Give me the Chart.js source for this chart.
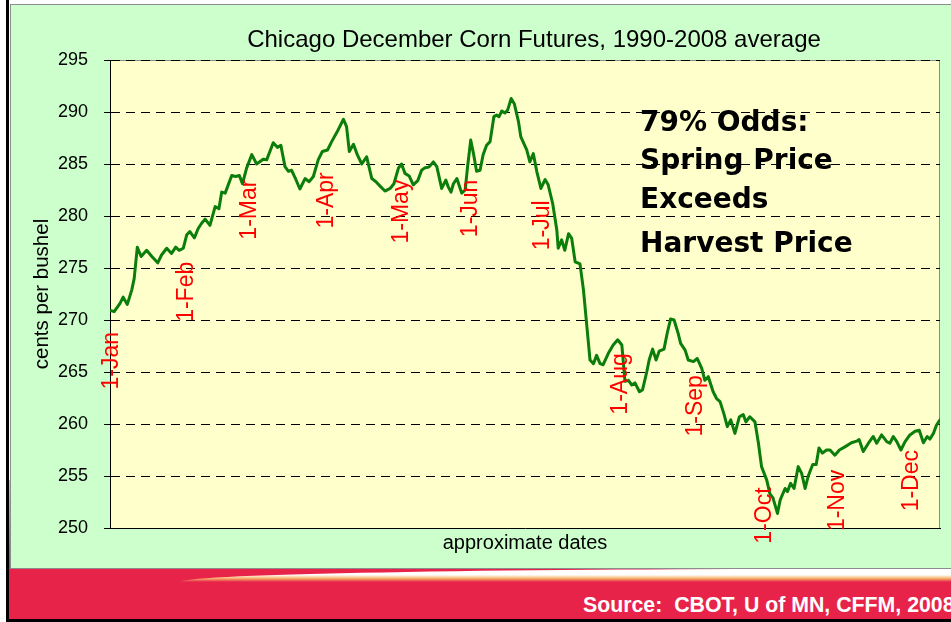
<!DOCTYPE html>
<html>
<head>
<meta charset="utf-8">
<title>Chicago December Corn Futures</title>
<script src="https://cdn.jsdelivr.net/npm/chart.js@4.4.1/dist/chart.umd.min.js"></script>
<style>
  html, body { margin: 0; padding: 0; }
  body { width: 951px; height: 622px; position: relative; overflow: hidden; background: #fff;
         font-family: "Liberation Sans", Arial, sans-serif; }
  #edge { position: absolute; left: 6px; top: 0; width: 3px; height: 622px; background: #000; }
  #sliver { position: absolute; left: 9px; top: 480px; width: 2px; height: 90px;
            background: linear-gradient(#f5c07a, #e8234a); }
  #panel { position: absolute; left: 10px; top: 4px; width: 960px; height: 563px;
           background: #ccffcc; border: 1px solid #8c8c8c; }
  #chartBox { position: absolute; left: 11px; top: 5px; width: 940px; height: 563px; }
  #band { position: absolute; left: 9px; top: 569px; width: 942px; height: 50px; background: #e8234a; }
  #sheen { position: absolute; left: 180px; top: 569px; width: 800px; height: 13px;
           background: linear-gradient(#ffffff 0%, #ffffff 45%, #f6b36a 72%, #e8234a 100%);
           border-top-left-radius: 620px 13px; }
  #source { position: absolute; left: 583px; top: 593px; color: #fff; font-weight: bold;
            font-size: 21.3px; white-space: pre; }
  #bottom { position: absolute; left: 6px; top: 619px; width: 945px; height: 3px; background: #000; }
</style>
</head>
<body>
<div id="edge"></div>
<div id="sliver"></div>
<div id="panel"></div>
<div id="band"></div>
<div id="sheen"></div>
<div id="source">Source:  CBOT, U of MN, CFFM, 2008</div>
<div id="bottom"></div>
<div id="chartBox"><canvas id="cornChart"></canvas></div>

<script>
// trading day since 1-Jan (approximate) and the average December corn price, cents per bushel
const tradingDay = [0.3,1.2,2.9,3.8,5.0,6.3,7.0,7.9,9.0,10.6,
  12.1,13.8,14.9,16.4,17.8,19.0,20.0,21.2,22.2,23.1,
  24.4,25.5,26.5,27.5,28.9,30.4,31.5,32.3,33.3,35.2,
  36.3,37.4,38.3,39.5,41.0,42.4,44.3,45.3,47.2,48.4,
  49.4,50.6,51.6,52.5,53.5,54.9,56.4,57.6,58.8,60.2,
  61.4,62.9,64.1,66.0,67.5,68.4,69.2,70.4,71.5,72.8,
  74.2,75.7,76.9,78.3,79.5,81.0,82.1,83.4,84.3,85.3,
  86.5,87.7,89.0,90.1,91.1,92.2,93.5,94.5,95.9,97.1,
  97.8,98.6,99.3,100.3,100.9,101.7,102.7,103.4,104.3,105.1,
  106.0,107.0,107.9,108.9,109.9,111.0,111.8,112.5,113.3,114.2,
  115.0,116.0,116.9,118.1,118.8,120.5,121.4,122.4,123.4,124.6,
  125.8,126.7,128.0,129.2,129.6,130.6,131.5,132.6,133.5,134.5,
  135.9,136.9,137.8,138.8,139.8,140.7,141.7,142.6,144.1,145.5,
  146.8,148.0,148.9,149.9,150.9,151.8,153.1,154.0,155.2,155.9,
  156.9,157.9,158.8,160.2,161.1,162.1,163.1,164.3,165.0,166.3,
  167.2,168.7,169.8,171.1,172.0,173.0,174.4,175.4,176.4,177.5,
  178.5,179.5,180.7,182.0,183.1,183.9,185.0,186.5,187.5,188.4,
  189.9,190.8,191.7,193.0,193.8,195.2,195.9,196.8,197.8,199.0,
  200.0,201.0,201.9,203.2,204.2,205.0,206.0,207.2,208.2,209.6,
  210.9,212.5,214.4,215.9,216.6,217.8,219.3,220.7,221.7,223.1,
  224.6,225.5,226.5,227.5,228.7,229.9,231.3,232.8,234.0,235.2,
  236.3,237.1,238.1,239.0,240.0];

const cornPrice = [270.9,270.8,271.6,272.2,271.5,272.9,274.0,277.0,276.1,276.7,
  276.1,275.5,276.25,276.9,276.4,277.0,276.7,276.9,278.2,278.5,
  277.9,278.8,279.3,279.7,279.1,280.9,280.7,282.3,282.2,283.9,
  283.8,283.9,283.1,284.6,285.9,285.0,285.45,285.4,287.05,286.6,
  286.8,284.75,284.3,284.4,283.7,282.6,283.6,283.3,283.8,285.4,
  286.2,286.35,287.15,288.3,289.3,288.6,286.2,286.9,285.9,285.0,
  285.7,283.6,283.3,282.8,282.4,282.65,283.1,284.6,285.0,284.1,
  283.85,283.0,283.4,284.4,284.65,284.7,285.2,284.75,282.65,283.45,
  282.8,282.3,283.1,283.6,283.0,282.2,282.5,284.75,287.3,286.0,
  284.3,284.4,285.9,286.8,287.15,289.55,289.7,289.55,290.1,289.9,
  290.2,291.3,290.8,289.1,287.6,286.35,285.2,286.0,284.3,282.65,
  283.5,283.0,281.2,278.65,276.9,277.7,276.7,278.3,277.85,275.6,
  275.4,272.9,269.7,266.15,265.8,266.6,265.8,265.7,266.8,267.6,
  268.1,267.6,264.1,264.2,263.75,263.95,263.1,263.3,265.0,266.15,
  267.2,266.15,267.0,267.2,268.7,270.1,270.0,268.7,267.75,267.1,
  266.15,266.0,266.3,265.35,264.2,264.55,263.1,262.45,262.15,261.0,
  259.75,260.4,259.1,260.7,260.9,260.2,260.7,260.2,258.15,255.9,
  254.6,253.3,252.9,251.4,252.7,253.8,253.5,254.3,253.8,255.9,
  255.25,253.8,255.0,256.1,256.1,257.7,257.2,257.5,257.5,257.0,
  257.5,257.8,258.2,258.35,258.5,257.35,258.15,258.8,258.15,258.95,
  258.3,258.15,258.8,258.3,257.5,258.3,258.95,259.3,259.4,258.2,
  258.8,258.55,259.1,259.9,260.4];

// month markers: label, trading day, and the price level where the label ends
const monthLabels = ['1-Jan','1-Feb','1-Mar','1-Apr','1-May','1-Jun','1-Jul','1-Aug','1-Sep','1-Oct','1-Nov','1-Dec'];
const monthDay = [0.6, 22.1, 40.5, 62.7, 84.4, 104.4, 125.2, 147.8, 169.4, 189.4, 210.5, 231.9];
const monthLabelTop = [268.85, 275.6, 283.5, 284.2, 283.5, 283.5, 281.5, 266.8, 264.7, 253.9, 255.6, 257.5];

const yTicks = [250, 255, 260, 265, 270, 275, 280, 285, 290, 295];
const chartTitle = 'Chicago December Corn Futures, 1990-2008 average';
const noteLines = ['79% Odds:', 'Spring Price', 'Exceeds', 'Harvest Price'];

const FONT = '"Liberation Sans", Arial, sans-serif';

// yellow plot area with grey frame
const plotBackground = {
  id: 'plotBackground',
  beforeDraw(chart) {
    const { ctx, chartArea: a } = chart;
    ctx.save();
    ctx.fillStyle = '#ffffcc';
    ctx.fillRect(a.left, a.top, a.width, a.height);
    ctx.strokeStyle = '#8c8c8c';
    ctx.lineWidth = 1;
    ctx.beginPath();
    ctx.moveTo(a.left, a.top + 0.5);
    ctx.lineTo(a.right - 0.5, a.top + 0.5);
    ctx.lineTo(a.right - 0.5, a.bottom);
    ctx.stroke();
    ctx.restore();
  }
};

// title sits a little right of the plot centre, as in the original slide
const titleText = {
  id: 'titleText',
  afterDraw(chart) {
    const { ctx, chartArea: a } = chart;
    ctx.save();
    ctx.fillStyle = '#000';
    ctx.font = '24px ' + FONT;
    ctx.textAlign = 'center';
    ctx.textBaseline = 'middle';
    ctx.fillText(chartTitle, (a.left + a.right) / 2 + 9, a.top - 20);
    ctx.restore();
  }
};

// red rotated month labels hanging under the line
const monthMarkers = {
  id: 'monthMarkers',
  afterDatasetsDraw(chart) {
    const { ctx, scales: { x, y } } = chart;
    ctx.save();
    ctx.fillStyle = '#ff0000';
    ctx.font = '23px ' + FONT;
    ctx.textAlign = 'right';
    ctx.textBaseline = 'middle';
    monthLabels.forEach((lbl, i) => {
      ctx.save();
      ctx.translate(x.getPixelForValue(monthDay[i]), y.getPixelForValue(monthLabelTop[i]));
      ctx.rotate(-Math.PI / 2);
      ctx.fillText(lbl, 0, 0);
      ctx.restore();
    });
    ctx.restore();
  }
};

// bold call-out text
const oddsNote = {
  id: 'oddsNote',
  afterDraw(chart) {
    const { ctx, chartArea: a } = chart;
    const baselines = [71, 109, 148, 191.5];
    ctx.save();
    ctx.fillStyle = '#000';
    ctx.font = 'bold 28px "DejaVu Sans", Verdana, sans-serif';
    ctx.textAlign = 'left';
    ctx.textBaseline = 'alphabetic';
    noteLines.forEach((t, i) => ctx.fillText(t, a.left + 530, a.top + baselines[i]));
    ctx.restore();
  }
};

new Chart(document.getElementById('cornChart'), {
  type: 'line',
  data: {
    datasets: [{
      label: 'December corn',
      data: tradingDay.map((d, i) => ({ x: d, y: cornPrice[i] })),
      borderColor: '#0b7d0b',
      borderWidth: 3,
      pointRadius: 0,
      tension: 0,
      borderJoinStyle: 'round',
      borderCapStyle: 'round'
    }]
  },
  options: {
    responsive: true,
    maintainAspectRatio: false,
    animation: false,
    layout: { padding: { left: 0, right: 11, top: 55, bottom: 0 } },
    plugins: {
      legend: { display: false },
      tooltip: { enabled: false },
      title: { display: false }
    },
    scales: {
      x: {
        type: 'linear',
        min: 0,
        max: 240,
        ticks: { display: false },
        grid: { display: false, drawTicks: false },
        border: { display: true, color: '#000', width: 1 },
        title: {
          display: true,
          text: 'approximate dates',
          color: '#000',
          font: { family: FONT, size: 20 },
          padding: { top: 3, bottom: 13 }
        }
      },
      y: {
        min: 250,
        max: 295,
        afterBuildTicks(scale) { scale.ticks = yTicks.map(v => ({ value: v })); },
        afterFit(scale) { scale.width = 99; },
        ticks: { color: '#000', padding: 16, font: { family: FONT, size: 18 } },
        grid: { color: '#000', lineWidth: 1, tickLength: 6, tickColor: '#000', tickBorderDash: [] },
        border: { display: true, color: '#000', width: 1, dash: [9, 6] },
        title: {
          display: true,
          text: 'cents per bushel',
          color: '#000',
          font: { family: FONT, size: 20.5 },
          padding: { top: 19, bottom: 0 }
        }
      }
    }
  },
  plugins: [plotBackground, titleText, monthMarkers, oddsNote]
});
</script>
</body>
</html>
